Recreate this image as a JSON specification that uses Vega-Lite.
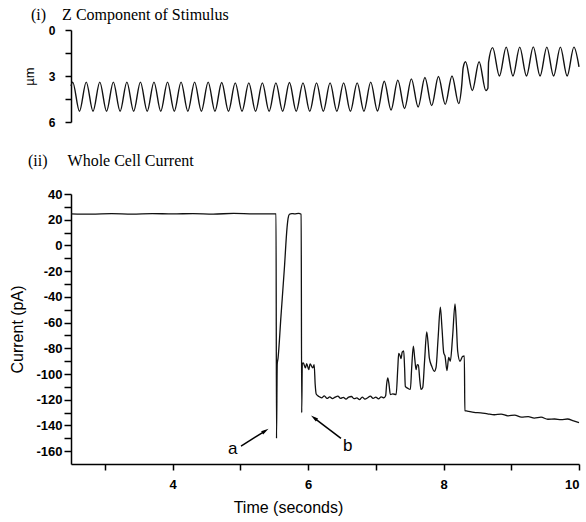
{
  "$schema": "https://vega.github.io/schema/vega-lite/v6.json",
  "background": "white",
  "padding": {"left": 9, "top": 7, "right": 8, "bottom": 5},
  "config": {
    "view": {"stroke": null},
    "axis": {"grid": false, "domainColor": "black", "tickColor": "black", "labelColor": "black", "titleColor": "black", "domainWidth": 1.5, "tickWidth": 1.5, "labelFont": "Liberation Sans", "labelFontWeight": "bold", "labelFontSize": 13, "titleFont": "Liberation Sans", "titleFontWeight": "normal", "titleFontSize": 16, "labelOverlap": false, "tickCount": 60},
    "title": {"color": "black", "font": "Liberation Serif", "fontWeight": "normal", "fontSize": 16, "anchor": "start", "frame": "group"}
  },
  "datasets": {
    "stim": [
      {"t": 2.5, "z": 3.65},
      {"t": 2.525, "z": 3.4}, {"t": 2.625, "z": 5.3},
      {"t": 2.725, "z": 3.4}, {"t": 2.825, "z": 5.3},
      {"t": 2.925, "z": 3.4}, {"t": 3.025, "z": 5.3},
      {"t": 3.125, "z": 3.4}, {"t": 3.225, "z": 5.3},
      {"t": 3.325, "z": 3.4}, {"t": 3.425, "z": 5.3},
      {"t": 3.525, "z": 3.4}, {"t": 3.625, "z": 5.3},
      {"t": 3.725, "z": 3.4}, {"t": 3.825, "z": 5.3},
      {"t": 3.925, "z": 3.4}, {"t": 4.025, "z": 5.3},
      {"t": 4.125, "z": 3.4}, {"t": 4.225, "z": 5.3},
      {"t": 4.325, "z": 3.4}, {"t": 4.425, "z": 5.3},
      {"t": 4.525, "z": 3.4}, {"t": 4.625, "z": 5.3},
      {"t": 4.725, "z": 3.42}, {"t": 4.825, "z": 5.3},
      {"t": 4.925, "z": 3.45}, {"t": 5.025, "z": 5.3},
      {"t": 5.125, "z": 3.45}, {"t": 5.225, "z": 5.3},
      {"t": 5.325, "z": 3.45}, {"t": 5.425, "z": 5.3},
      {"t": 5.525, "z": 3.45}, {"t": 5.625, "z": 5.3},
      {"t": 5.725, "z": 3.42}, {"t": 5.825, "z": 5.3},
      {"t": 5.925, "z": 3.45}, {"t": 6.025, "z": 5.3},
      {"t": 6.125, "z": 3.45}, {"t": 6.225, "z": 5.3},
      {"t": 6.325, "z": 3.45}, {"t": 6.425, "z": 5.3},
      {"t": 6.525, "z": 3.45}, {"t": 6.625, "z": 5.3},
      {"t": 6.725, "z": 3.45}, {"t": 6.825, "z": 5.3},
      {"t": 6.925, "z": 3.4}, {"t": 7.025, "z": 5.28},
      {"t": 7.125, "z": 3.34}, {"t": 7.225, "z": 5.22},
      {"t": 7.325, "z": 3.27}, {"t": 7.425, "z": 5.12},
      {"t": 7.525, "z": 3.19}, {"t": 7.625, "z": 5.02},
      {"t": 7.725, "z": 3.1}, {"t": 7.825, "z": 4.93},
      {"t": 7.925, "z": 3.03}, {"t": 8.025, "z": 4.85},
      {"t": 8.125, "z": 3.0}, {"t": 8.225, "z": 4.8},
      {"t": 8.27, "z": 3.55}, {"t": 8.29, "z": 2.45},
      {"t": 8.325, "z": 2.07}, {"t": 8.425, "z": 3.95},
      {"t": 8.525, "z": 2.07}, {"t": 8.625, "z": 3.95},
      {"t": 8.655, "z": 3.8}, {"t": 8.665, "z": 2.1},
      {"t": 8.725, "z": 1.15}, {"t": 8.825, "z": 3.0},
      {"t": 8.925, "z": 1.12}, {"t": 9.025, "z": 3.0},
      {"t": 9.125, "z": 1.12}, {"t": 9.225, "z": 3.0},
      {"t": 9.325, "z": 1.1}, {"t": 9.425, "z": 3.0},
      {"t": 9.525, "z": 1.12}, {"t": 9.625, "z": 3.0},
      {"t": 9.725, "z": 1.12}, {"t": 9.825, "z": 3.0},
      {"t": 9.925, "z": 1.12}, {"t": 10.0, "z": 2.4}
    ],
    "current": [
      {"t": 2.5, "i": 24.6}, {"t": 2.8, "i": 24.3}, {"t": 3.1, "i": 24.7}, {"t": 3.4, "i": 24.4},
      {"t": 3.7, "i": 24.8}, {"t": 4.0, "i": 24.5}, {"t": 4.3, "i": 24.8}, {"t": 4.6, "i": 24.4},
      {"t": 4.9, "i": 24.9}, {"t": 5.2, "i": 24.5}, {"t": 5.5, "i": 24.6}, {"t": 5.527, "i": 24.5},
      {"t": 5.534, "i": -150}, {"t": 5.545, "i": -92}, {"t": 5.556, "i": -88}, {"t": 5.6, "i": -55},
      {"t": 5.65, "i": -18}, {"t": 5.69, "i": 14}, {"t": 5.705, "i": 21}, {"t": 5.725, "i": 24.2},
      {"t": 5.76, "i": 24.8}, {"t": 5.8, "i": 24.5}, {"t": 5.86, "i": 24.9}, {"t": 5.898, "i": 24.3},
      {"t": 5.906, "i": -130}, {"t": 5.915, "i": -92}, {"t": 5.93, "i": -91.4}, {"t": 5.96, "i": -95.3},
      {"t": 5.98, "i": -91.9}, {"t": 6.01, "i": -96.6}, {"t": 6.03, "i": -92.2}, {"t": 6.07, "i": -95.3},
      {"t": 6.09, "i": -92.7}, {"t": 6.105, "i": -108}, {"t": 6.12, "i": -115.5}, {"t": 6.16, "i": -117.5},
      {"t": 6.2, "i": -118.5}, {"t": 6.24, "i": -117}, {"t": 6.28, "i": -119}, {"t": 6.32, "i": -117.8},
      {"t": 6.36, "i": -119.2}, {"t": 6.4, "i": -118}, {"t": 6.44, "i": -117.2}, {"t": 6.48, "i": -119},
      {"t": 6.52, "i": -118.2}, {"t": 6.56, "i": -119.5}, {"t": 6.6, "i": -118}, {"t": 6.64, "i": -117.5},
      {"t": 6.68, "i": -119.2}, {"t": 6.72, "i": -118.6}, {"t": 6.76, "i": -120}, {"t": 6.8, "i": -118},
      {"t": 6.84, "i": -119.5}, {"t": 6.88, "i": -118.5}, {"t": 6.92, "i": -117.2}, {"t": 6.96, "i": -119},
      {"t": 7.0, "i": -118}, {"t": 7.04, "i": -119.4}, {"t": 7.08, "i": -117.8}, {"t": 7.12, "i": -118.5},
      {"t": 7.145, "i": -117}, {"t": 7.16, "i": -108}, {"t": 7.176, "i": -103}, {"t": 7.195, "i": -108},
      {"t": 7.215, "i": -116}, {"t": 7.25, "i": -115.5}, {"t": 7.3, "i": -116},
      {"t": 7.325, "i": -95}, {"t": 7.338, "i": -84}, {"t": 7.36, "i": -86}, {"t": 7.372, "i": -88},
      {"t": 7.39, "i": -83}, {"t": 7.412, "i": -82}, {"t": 7.425, "i": -95}, {"t": 7.436, "i": -109.6},
      {"t": 7.47, "i": -111}, {"t": 7.51, "i": -112},
      {"t": 7.53, "i": -95}, {"t": 7.554, "i": -78.4}, {"t": 7.575, "i": -88}, {"t": 7.594, "i": -96.6},
      {"t": 7.612, "i": -92.7}, {"t": 7.628, "i": -93}, {"t": 7.65, "i": -105}, {"t": 7.668, "i": -112},
      {"t": 7.693, "i": -110.5},
      {"t": 7.72, "i": -90}, {"t": 7.752, "i": -67.3}, {"t": 7.775, "i": -78}, {"t": 7.79, "i": -87.5},
      {"t": 7.826, "i": -94}, {"t": 7.864, "i": -97.9}, {"t": 7.889, "i": -95},
      {"t": 7.92, "i": -72}, {"t": 7.953, "i": -48}, {"t": 7.978, "i": -65}, {"t": 8.003, "i": -83.6},
      {"t": 8.022, "i": -86}, {"t": 8.051, "i": -97.4}, {"t": 8.076, "i": -87}, {"t": 8.1, "i": -90},
      {"t": 8.135, "i": -70}, {"t": 8.17, "i": -45.4}, {"t": 8.19, "i": -62}, {"t": 8.209, "i": -82.3},
      {"t": 8.243, "i": -90.1}, {"t": 8.283, "i": -86.2}, {"t": 8.307, "i": -86}, {"t": 8.315, "i": -128.5},
      {"t": 8.35, "i": -128.8}, {"t": 8.45, "i": -129.8}, {"t": 8.55, "i": -130.2}, {"t": 8.65, "i": -131},
      {"t": 8.75, "i": -131.7}, {"t": 8.85, "i": -131.2}, {"t": 8.95, "i": -132.5}, {"t": 9.05, "i": -132},
      {"t": 9.15, "i": -133.5}, {"t": 9.25, "i": -133.2}, {"t": 9.34, "i": -134.3}, {"t": 9.44, "i": -133.6},
      {"t": 9.54, "i": -135.2}, {"t": 9.64, "i": -135}, {"t": 9.735, "i": -135.5}, {"t": 9.83, "i": -135},
      {"t": 9.92, "i": -136.5}, {"t": 10.0, "i": -137.8}
    ],
    "arrows": [
      {"label": "a", "t0": 5.01, "i0": -156.1, "t1": 5.364, "i1": -144.4, "tl": 4.886, "il": -158.7, "ang": 58},
      {"label": "b", "t0": 6.486, "i0": -150.1, "t1": 6.092, "i1": -134.3, "tl": 6.585, "il": -156.3, "ang": 306.6}
    ]
  },
  "vconcat": [
    {
      "width": 508,
      "height": 92,
      "title": {"text": "(i)\u00a0\u00a0\u00a0\u00a0Z Component of Stimulus", "dx": -40, "offset": 1},
      "data": {"name": "stim"},
      "mark": {"type": "line", "interpolate": "monotone", "color": "#111", "strokeWidth": 1.4},
      "encoding": {
        "x": {"field": "t", "type": "quantitative", "scale": {"domain": [2.5, 10], "nice": false, "zero": false}, "axis": null},
        "y": {"field": "z", "type": "quantitative", "scale": {"domain": [0, 6], "reverse": true, "nice": false},
          "axis": {"title": "µm", "titleFont": "Liberation Sans", "titleFontSize": 13, "values": [0, 1.5, 3, 4.5, 6], "labelExpr": "datum.value % 3 == 0 ? toString(datum.value) : ''", "tickSize": 6, "labelPadding": 10, "labelFontSize": 12, "titlePadding": 12}}
      }
    },
    {
      "width": 508,
      "height": 270,
      "title": {"text": "(ii)\u00a0\u00a0\u00a0\u00a0\u00a0Whole Cell Current", "dx": -43, "offset": 19},
      "layer": [
        {
          "data": {"name": "current"},
          "mark": {"type": "line", "interpolate": "monotone", "color": "#111", "strokeWidth": 1.3},
          "encoding": {
            "x": {"field": "t", "type": "quantitative", "scale": {"domain": [2.5, 10], "nice": false, "zero": false},
              "axis": {"title": "Time (seconds)", "values": [3, 4, 5, 6, 7, 8, 9, 10], "labelExpr": "datum.value % 2 == 0 ? toString(datum.value) : ''", "tickSize": 6, "labelPadding": 8, "titlePadding": 8, "titleX": 217}},
            "y": {"field": "i", "type": "quantitative", "scale": {"domain": [-170, 40], "nice": false, "zero": false},
              "axis": {"title": "Current (pA)", "values": [40, 30, 20, 10, 0, -10, -20, -30, -40, -50, -60, -70, -80, -90, -100, -110, -120, -130, -140, -150, -160], "labelExpr": "datum.value % 20 == 0 ? toString(datum.value) : ''", "tickSize": 7, "labelPadding": 2, "titlePadding": 10}}
          }
        },
        {
          "data": {"name": "arrows"},
          "mark": {"type": "rule", "color": "black", "strokeWidth": 1.5},
          "encoding": {
            "x": {"field": "t0", "type": "quantitative"},
            "y": {"field": "i0", "type": "quantitative"},
            "x2": {"field": "t1"},
            "y2": {"field": "i1"}
          }
        },
        {
          "data": {"name": "arrows"},
          "mark": {"type": "point", "shape": "M0,-1L0.45,0.8L-0.45,0.8Z", "filled": true, "color": "black", "size": 70, "opacity": 1},
          "encoding": {
            "x": {"field": "t1", "type": "quantitative"},
            "y": {"field": "i1", "type": "quantitative"},
            "angle": {"field": "ang", "type": "quantitative", "scale": null}
          }
        },
        {
          "data": {"name": "arrows"},
          "mark": {"type": "text", "font": "Liberation Sans", "fontSize": 17, "color": "black", "baseline": "middle", "align": "center"},
          "encoding": {
            "x": {"field": "tl", "type": "quantitative"},
            "y": {"field": "il", "type": "quantitative"},
            "text": {"field": "label"}
          }
        }
      ]
    }
  ],
  "spacing": 25
}
